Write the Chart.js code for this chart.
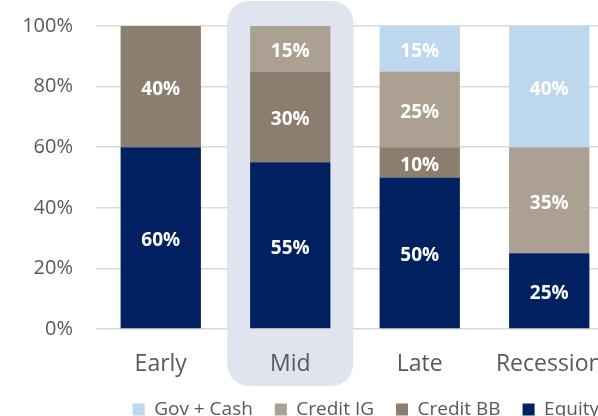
<!DOCTYPE html>
<html>
<head>
<meta charset="utf-8">
<script src="https://cdn.jsdelivr.net/npm/chart.js@4.4.1/dist/chart.umd.min.js"></script>
<style>
  html, body { margin: 0; padding: 0; background: #fff; overflow: hidden; }
  #wrap { width: 598px; height: 416px; overflow: hidden; position: relative; }
  #box { width: 634px; height: 429px; position: absolute; left: 0; top: 0; }
</style>
</head>
<body>
<div id="wrap"><div id="box"><canvas id="chart"></canvas></div></div>
<script>
// phases of the cycle
const phases = ['Early', 'Mid', 'Late', 'Recession'];

// allocation per asset class (%)
const equity   = [60, 55, 50, 25];
const creditBB = [40, 30, 10, 0];
const creditIG = [0, 15, 25, 35];
const govCash  = [0, 0, 15, 40];

const yTicks = [0, 20, 40, 60, 80, 100];

const FONT = '"Open Sans", "Noto Sans", sans-serif';
const highlightIndex = 1; // "Mid"

function highlightPath(chart) {
    const x = chart.scales.x.getPixelForValue(highlightIndex);
    const ctx = chart.ctx;
    ctx.beginPath();
    ctx.roundRect(x - 63, 1, 126, 385, 22);
}

// rounded band behind the highlighted phase
const highlightPlugin = {
    id: 'highlight',
    afterLayout(chart) {
        // legend sits a little right of centre in the original
        chart.legend.left += 7;
        chart.legend.right += 7;
    },
    beforeDraw(chart) {
        const ctx = chart.ctx;
        ctx.save();
        highlightPath(chart);
        ctx.fillStyle = '#dfe4ef';
        ctx.fill();
        ctx.restore();
    },
    beforeDatasetsDraw(chart) {
        // cover the gridlines that cross the band
        const ctx = chart.ctx;
        const a = chart.chartArea;
        ctx.save();
        ctx.beginPath();
        ctx.rect(0, 0, chart.width, a.bottom + 2);
        ctx.clip();
        highlightPath(chart);
        ctx.fillStyle = '#dfe4ef';
        ctx.fill();
        ctx.restore();
    }
};

// white value labels in the middle of every segment
const valueLabels = {
    id: 'valueLabels',
    afterDatasetsDraw(chart) {
        const ctx = chart.ctx;
        ctx.save();
        ctx.font = 'bold 19px ' + FONT;
        ctx.fillStyle = '#ffffff';
        ctx.textAlign = 'center';
        ctx.textBaseline = 'middle';
        chart.data.datasets.forEach((ds, i) => {
            chart.getDatasetMeta(i).data.forEach((bar, j) => {
                const v = ds.data[j];
                if (!v) return;
                const y = (bar.y + bar.base) / 2;
                ctx.fillText(v + '%', bar.x, y + 3);
            });
        });
        ctx.restore();
    }
};

new Chart(document.getElementById('chart'), {
    type: 'bar',
    data: {
        labels: phases,
        datasets: [
            { label: 'Equity',     data: equity,   backgroundColor: '#002060' },
            { label: 'Credit BB',  data: creditBB, backgroundColor: '#8b7e6e' },
            { label: 'Credit IG',  data: creditIG, backgroundColor: '#aca092' },
            { label: 'Gov + Cash', data: govCash,  backgroundColor: '#bdd7ee' }
        ]
    },
    options: {
        responsive: true,
        maintainAspectRatio: false,
        animation: false,
        layout: { padding: { top: 26, right: 20, left: 0, bottom: 0 } },
        datasets: { bar: { categoryPercentage: 1, barPercentage: 0.62 } },
        plugins: {
            legend: {
                position: 'bottom',
                align: 'end',
                reverse: true,
                labels: {
                    boxWidth: 12,
                    boxHeight: 12,
                    padding: 22,
                    color: '#595959',
                    font: { family: FONT, size: 19 }
                }
            },
            tooltip: { enabled: false }
        },
        scales: {
            x: {
                stacked: true,
                grid: { display: false },
                border: { display: false },
                ticks: { color: '#595959', padding: 14, font: { family: FONT, size: 23 } },
                afterFit(s) { s.height = 49; }
            },
            y: {
                stacked: true,
                min: 0,
                max: 100,
                afterBuildTicks(s) { s.ticks = yTicks.map(v => ({ value: v })); },
                grid: { color: '#d9d9d9', lineWidth: 1.5, drawTicks: false },
                border: { display: false },
                ticks: {
                    color: '#595959',
                    padding: 23,
                    font: { family: FONT, size: 20 },
                    callback: v => v + '%'
                },
                afterFit(s) {
                    s.width = 96;
                    s.paddingTop = 0;
                    s.paddingBottom = 0;
                }
            }
        }
    },
    plugins: [highlightPlugin, valueLabels]
});
</script>
</body>
</html>
